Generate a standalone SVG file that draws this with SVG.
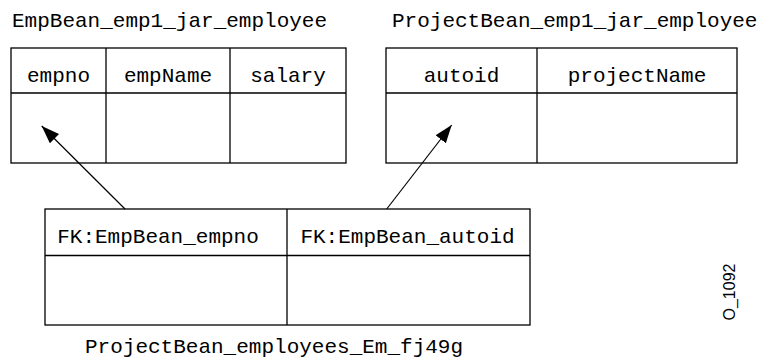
<svg xmlns="http://www.w3.org/2000/svg" width="763" height="358" viewBox="0 0 763 358">
<style>
.t{font-family:"Liberation Mono","Courier New",monospace;font-size:21px;fill:#000}
.c{text-anchor:middle}
.b{fill:#fff;stroke:#000;stroke-width:1.3}
.l{stroke:#000;stroke-width:1.3;fill:none}
.a{stroke:#000;stroke-width:1.2;fill:none}
</style>
<defs>
<marker id="ah" markerWidth="20" markerHeight="14" refX="18" refY="6.5" orient="auto" markerUnits="userSpaceOnUse">
<path d="M0,0 L18,6.5 L0,13 Z" fill="#000"/>
</marker>
</defs>
<rect width="763" height="358" fill="#fff"/>
<g id="emp-table">
<text class="t" x="12" y="26.5">EmpBean_emp1_jar_employee</text>
<rect class="b" x="11" y="48" width="335" height="115"/>
<line class="l" x1="11" y1="93" x2="346" y2="93"/>
<line class="l" x1="106" y1="48" x2="106" y2="163"/>
<line class="l" x1="230" y1="48" x2="230" y2="163"/>
<text class="t c" x="58.5" y="81.5">empno</text>
<text class="t c" x="168" y="81.5">empName</text>
<text class="t c" x="288" y="81.5">salary</text>
</g>
<g id="project-table">
<text class="t" x="392" y="26.5">ProjectBean_emp1_jar_employee</text>
<rect class="b" x="386" y="48" width="351" height="115"/>
<line class="l" x1="386" y1="93" x2="737" y2="93"/>
<line class="l" x1="537" y1="48" x2="537" y2="163"/>
<text class="t c" x="461.5" y="81.5">autoid</text>
<text class="t c" x="637" y="81.5">projectName</text>
</g>
<g id="join-table">
<rect class="b" x="45" y="209" width="485" height="116"/>
<line class="l" x1="45" y1="255.5" x2="530" y2="255.5"/>
<line class="l" x1="287" y1="209" x2="287" y2="325"/>
<text class="t c" x="158" y="242.5">FK:EmpBean_empno</text>
<text class="t c" x="407.5" y="242.5">FK:EmpBean_autoid</text>
<text class="t" x="85" y="353">ProjectBean_employees_Em_fj49g</text>
</g>
<g id="connectors">
<line class="a" x1="125" y1="209" x2="41.7" y2="126" marker-end="url(#ah)"/>
<line class="a" x1="386.7" y1="209" x2="451.7" y2="125" marker-end="url(#ah)"/>
</g>
<text x="735" y="292" transform="rotate(-90 735 292)" text-anchor="middle" font-family="Liberation Sans, Arial, sans-serif" font-size="16">O_1092</text>
</svg>
